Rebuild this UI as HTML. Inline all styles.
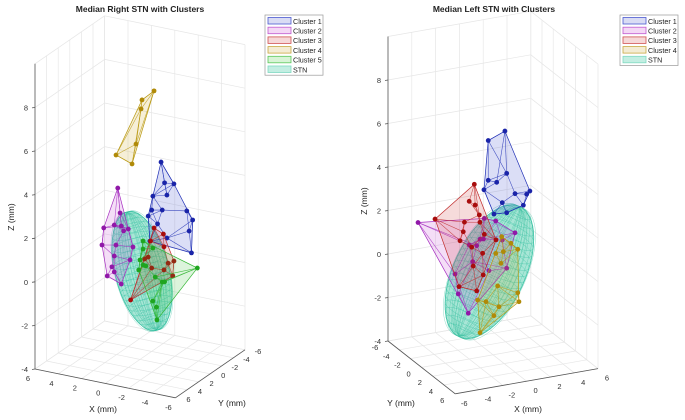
<!DOCTYPE html>
<html><head><meta charset="utf-8"><style>
html,body{margin:0;padding:0;background:#fff;}
svg{display:block;font-family:"Liberation Sans",Arial,sans-serif;}
</style></head><body>
<svg id="chart" width="685" height="420" viewBox="0 0 685 420" xmlns="http://www.w3.org/2000/svg">
<g id="left"></g>
<g id="right"></g>
</svg>
<script>
// ---- data (mm) ----
const axisTicks = [-6,-4,-2,0,2,4,6];
const zTicks = [-4,-2,0,2,4,6,8];
const zGrid = [-4,-2,0,2,4,6,8,10];
const clusterNames = ["Cluster 1","Cluster 2","Cluster 3","Cluster 4","Cluster 5"];
// Right STN panel clusters [X, Y, Z]
const rC1 = [[-1.8,0,5.25],[-2.1,0,4.33],[-2.9,0,4.37],[-1.1,0,3.61],[-2.3,0,3.79],[-1.0,0,2.96],[-1.9,0,3.06],[-0.7,0,2.65],[-4.0,0,3.25],[-4.5,0,2.89],[-1.5,0,2.38],[-4.2,0,2.35],[-2.3,0,1.82],[-0.85,0,1.52],[-4.4,0,1.37]];
const rC2 = [[1.9,0,3.65],[1.7,0,2.53],[3.1,0,1.69],[2.2,0,1.92],[1.6,0,1.94],[1.0,0,1.87],[1.4,0,1.74],[3.25,0,0.89],[2.05,0,1.02],[0.6,0,1.09],[2.2,0,0.5],[0.85,0,0.47],[2.4,0,-0.02],[2.2,0,-0.23],[2.8,0,-0.48],[1.6,0,-0.72]];
const rC3 = [[-1.2,0,2.16],[-2.0,0,1.97],[-0.9,0,1.53],[-2.05,0,1.39],[-0.7,0,0.77],[-0.4,0,0.65],[-2.4,0,0.68],[-2.9,0,0.83],[-1.0,0,0.3],[-2.05,0,0.33],[-2.8,0,0.14],[0.8,0,-1.36]];
const rC4 = [[-1.2,0,8.45],[-0.17,0,7.92],[-0.09,0,7.5],[0.34,0,5.84],[2.05,0,5.15],[0.68,0,4.89]];
const rC5 = [[-0.26,0,1.46],[-0.26,0,1.09],[-1.1,0,1.23],[0,0,0.56],[-0.26,0,0.36],[-0.5,0,0.34],[0.1,0,0.09],[-1.3,0,-0.08],[-1.9,0,-0.24],[-2.1,0,-0.21],[-4.9,0,0.73],[-1.1,0,-1.2],[-1.4,0,-1.45],[-1.45,0,-2.03]];
const rSTN = [-0.17,0,0.07]; const rSTNradii = [2.3,2.8]; const rSTNtilt = -14;
// Left STN panel clusters
const lC1 = [[1.0,0,6.19],[-0.4,0,5.89],[1.15,0,4.23],[-0.4,0,4.06],[0.31,0,3.9],[-0.76,0,3.66],[3.1,0,3.23],[1.85,0,3.23],[2.83,0,3.11],[0.78,0,2.92],[2.55,0,2.63],[1.15,0,2.42],[0.08,0,2.46]];
const lC2 = [[-6.3,0,2.69],[-0.73,0,2.34],[0.23,0,2.13],[1.85,0,1.43],[-1.09,0,1.42],[-0.8,0,1.4],[-2.0,0,1.24],[-1.37,0,1.15],[0.78,0,1.2],[-1.71,0,0.45],[-0.34,0,-0.1],[1.15,0,-0.13],[-3.19,0,0.02],[-2.92,0,-0.92],[-2.08,0,-1.89]];
const lC3 = [[-1.57,0,3.99],[-4.87,0,2.71],[-2.0,0,3.25],[-1.5,0,3.03],[-1.15,0,2.54],[-1.1,0,2.2],[-2.4,0,2.33],[-2.5,0,1.9],[-0.73,0,1.61],[-2.77,0,1.51],[0.25,0,1.26],[-1.79,0,1.12],[-0.87,0,0.75],[-1.66,0,0.24],[-0.82,0,-0.25],[-2.86,0,-0.59],[-1.37,0,-0.93]];
const lC4 = [[0.73,0,1.36],[1.51,0,0.98],[2.08,0,0.65],[0.23,0,0.64],[0.87,0,0.66],[0.67,0,0.14],[0.39,0,-0.87],[2.08,0,-1.35],[-1.29,0,-1.36],[-0.59,0,-1.5],[2.18,0,-1.77],[0.5,0,-1.84],[0.08,0,-2.21],[-1.09,0,-2.88]];
const lSTN = [-0.3,0,-0.15]; const lSTNradii = [3.0,3.3]; const lSTNtilt = 25;

const NS="http://www.w3.org/2000/svg";
const colors=[{s:"#1f2fb5",f:"rgba(40,60,200,0.17)",p:"#1a24a8"},{s:"#a52bc0",f:"rgba(190,60,210,0.17)",p:"#9018a8"},{s:"#c02a2a",f:"rgba(200,40,40,0.17)",p:"#a80d0d"},{s:"#b8980f",f:"rgba(200,160,20,0.17)",p:"#b08a08"},{s:"#2fb52f",f:"rgba(50,190,50,0.17)",p:"#1fa51f"}];
const legFill=["#d9dcf4","#f4d8f6","#f6d8d8","#f4ecd4","#d8f4d6"];
const legStroke=["#4b59d0","#c05ad0","#d05050","#c8a840","#5ac85a"];

function el(parent,tag,attrs,text){const e=document.createElementNS(NS,tag);for(const k in attrs)e.setAttribute(k,attrs[k]);if(text!==undefined)e.textContent=text;parent.appendChild(e);return e;}

function makeProj(c){return function(X,Y,Z){return [c.ox+(X-c.x0)*c.xdx+(Y-c.y0)*c.ydx, c.oy+(X-c.x0)*c.xdy+(Y-c.y0)*c.ydy+(Z+4)*c.zdy];};}

function hull(pts){const p=pts.slice().sort((a,b)=>a[0]-b[0]||a[1]-b[1]);const cr=(o,a,b)=>(a[0]-o[0])*(b[1]-o[1])-(a[1]-o[1])*(b[0]-o[0]);const lo=[],up=[];for(const q of p){while(lo.length>=2&&cr(lo[lo.length-2],lo[lo.length-1],q)<=0)lo.pop();lo.push(q);}for(let i=p.length-1;i>=0;i--){const q=p[i];while(up.length>=2&&cr(up[up.length-2],up[up.length-1],q)<=0)up.pop();up.push(q);}up.pop();lo.pop();return lo.concat(up);}

function drawPanel(g,cfg){
  const P=makeProj(cfg.proj);
  const grid=el(g,"g",{stroke:"#e6e6e6","stroke-width":"0.7"});
  
  
  const line=(p,a,b,attrs)=>{const A=P(...a),B=P(...b);return el(p,"line",Object.assign({x1:A[0],y1:A[1],x2:B[0],y2:B[1]},attrs||{}));};
  for(const t of axisTicks){
    line(grid,[6,t,-4],[6,t,10]); line(grid,[t,-6,-4],[t,-6,10]);
    line(grid,[t,-6,-4],[t,6,-4]); line(grid,[-6,t,-4],[6,t,-4]);
  }
  for(const z of zGrid){line(grid,[6,-6,z],[6,6,z]);line(grid,[-6,-6,z],[6,-6,z]);}
  const ax=el(g,"g",{stroke:"#555","stroke-width":"0.8"});
  
  
  const zc=cfg.zCorner;
  line(ax,[zc[0],zc[1],-4],[zc[0],zc[1],10]);
  line(ax,[-6,6,-4],[6,6,-4]);
  line(ax,[-6,-6,-4],[-6,6,-4]);
  const lab=el(g,"g",{"font-size":"7.5",fill:"#333"});
  
  
  for(const z of zTicks){const p=P(zc[0],zc[1],z);el(ax,"line",{x1:p[0]-3,y1:p[1]+0.5,x2:p[0],y2:p[1]});
    const t=el(lab,"text",{x:p[0]-7,y:p[1]+3,"text-anchor":"end"},String(z));
    
    }
  for(const v of axisTicks){
    const px=P(v,6,-4);const t=el(lab,"text",{x:px[0]+cfg.xOff[0],y:px[1]+cfg.xOff[1],"text-anchor":"middle"},String(v));
    
    
    const py=P(-6,v,-4);const t2=el(lab,"text",{x:py[0]+cfg.yOff[0],y:py[1]+cfg.yOff[1],"text-anchor":"middle"},String(v));
    
    
  }
  const ttl=el(g,"text",{x:cfg.title[1],y:12,"text-anchor":"middle","font-size":"8.5","font-weight":"bold",fill:"#222"},cfg.title[0]);
  
  
  for(const a of cfg.axisLabels){const t=el(g,"text",{x:a[1],y:a[2],"text-anchor":"middle","font-size":"8.5",fill:"#222",transform:a[3]?`rotate(-90 ${a[1]} ${a[2]})`:""},a[0]);
    
    }
  // STN ellipsoid
  const c=P(...cfg.stn);const rx=cfg.stnR[0]*Math.abs(cfg.proj.xdx),ry=cfg.stnR[1]*Math.abs(cfg.proj.zdy);
  const sg=el(g,"g",{transform:`translate(${c[0]} ${c[1]}) rotate(${cfg.tilt})`});
  
  
  el(sg,"ellipse",{cx:0,cy:0,rx:rx,ry:ry,fill:"#a8e6d6",stroke:"#3cc4a6","stroke-width":"0.8"});
  for(let i=-10;i<=10;i++){const f=i/11;el(sg,"ellipse",{cx:0,cy:ry*f,rx:rx*Math.sqrt(1-f*f),ry:rx*Math.sqrt(1-f*f)*0.25,fill:"none",stroke:"#3cc4a6","stroke-width":"0.3"});}
  for(let i=-8;i<=8;i++){const f=i/9;el(sg,"ellipse",{cx:rx*f*0.15,cy:0,rx:Math.abs(rx*f),ry:ry,fill:"none",stroke:"#38be9e","stroke-width":"0.25"});}
  // clusters
  cfg.clusters.forEach((pts,ci)=>{
    const col=colors[ci];const cg=el(g,"g",{});
    
    
    const sp=pts.map(q=>P(...q));
    const h=hull(sp);
    el(cg,"polygon",{points:h.map(q=>q.join(",")).join(" "),fill:col.f,stroke:col.s,"stroke-width":"0.7"});
    const seen=new Set();
    sp.forEach((a,i)=>{const d=sp.map((b,j)=>[j,(a[0]-b[0])**2+(a[1]-b[1])**2]).filter(x=>x[0]!==i).sort((u,v)=>u[1]-v[1]).slice(0,3);
      d.forEach(([j])=>{const k=Math.min(i,j)+"-"+Math.max(i,j);if(seen.has(k))return;seen.add(k);el(cg,"line",{x1:a[0],y1:a[1],x2:sp[j][0],y2:sp[j][1],stroke:col.s,"stroke-width":"0.55","stroke-opacity":"0.85"});});});
    sp.forEach(q=>{const m=el(cg,"circle",{cx:q[0],cy:q[1],r:2.4,fill:col.p});
      
      });
  });
  // legend
  const n=cfg.clusters.length;const L=cfg.legend;
  const lg=el(g,"g",{});
  
  
  el(lg,"rect",{x:L[0],y:L[1],width:58,height:(n+1)*9.7+2,fill:"#fff",stroke:"#999","stroke-width":"0.7"});
  for(let i=0;i<=n;i++){const y=L[1]+2.5+i*9.7;const isS=i===n;
    const e=el(lg,"g",{});
    
    
    el(e,"rect",{x:L[0]+3,y:y,width:23,height:6.5,fill:isS?"#c3eee2":legFill[i],stroke:isS?"#7fd9c2":legStroke[i],"stroke-width":"0.8"});
    el(e,"text",{x:L[0]+28,y:y+6.3,"font-size":"7.2",fill:"#222"},isS?"STN":clusterNames[i]);}
}

drawPanel(document.getElementById("left"),{
  proj:{ox:35,oy:369,x0:6,y0:6,xdx:-11.7,xdy:-2.4,ydx:-5.8,ydy:4,zdy:-21.8},
  zCorner:[6,6], xOff:[-7,12], yOff:[13,4],
  title:["Median Right STN with Clusters",140],
  axisLabels:[["X (mm)",103,412,false,"x-axis-title"],["Y (mm)",232,406,false,"y-axis-title"],["Z (mm)",14,217,true,"z-axis-title"]],
  stn:rSTN, stnR:rSTNradii, tilt:rSTNtilt,
  clusters:[rC1,rC2,rC3,rC4,rC5], legend:[265,15]
});
drawPanel(document.getElementById("right"),{
  proj:{ox:388,oy:341,x0:-6,y0:-6,xdx:11.9,xdy:-2.1,ydx:5.6,ydy:4.4,zdy:-21.75},
  zCorner:[-6,-6], xOff:[9,12], yOff:[-13,9],
  title:["Median Left STN with Clusters",494],
  axisLabels:[["Y (mm)",401,406,false,"y-axis-title"],["X (mm)",528,412,false,"x-axis-title"],["Z (mm)",367,201,true,"z-axis-title"]],
  stn:lSTN, stnR:lSTNradii, tilt:lSTNtilt,
  clusters:[lC1,lC2,lC3,lC4], legend:[620,15]
});
</script>
</body></html>
